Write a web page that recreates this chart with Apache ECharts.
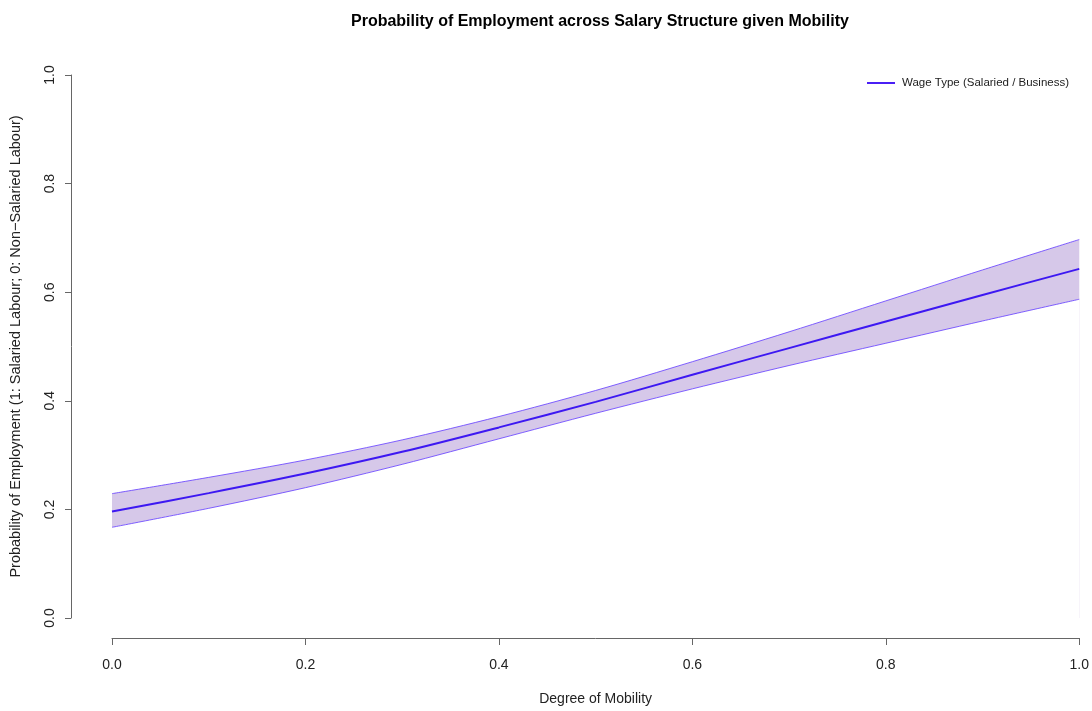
<!DOCTYPE html>
<html>
<head>
<meta charset="utf-8">
<script src="https://cdn.jsdelivr.net/npm/echarts@6/dist/echarts.min.js"></script>
<style>html,body{margin:0;padding:0;background:#fff}#c{width:1092px;height:711px}</style>
</head>
<body>
<div id="c"></div>
<script>
const mobility = [0.0, 0.1, 0.2, 0.3, 0.4, 0.5, 0.6, 0.7, 0.8, 0.9, 1.0];
const probMean = [0.196, 0.230, 0.266, 0.306, 0.351, 0.398, 0.448, 0.497, 0.546, 0.595, 0.643];
const probUpper = [0.229, 0.259, 0.291, 0.328, 0.371, 0.419, 0.472, 0.527, 0.584, 0.641, 0.697];
const probLower = [0.167, 0.202, 0.240, 0.283, 0.330, 0.377, 0.422, 0.465, 0.506, 0.547, 0.587];
const axisTicks = [0.0, 0.2, 0.4, 0.6, 0.8, 1.0];
const seriesName = 'Wage Type (Salaried / Business)';

const upperData = mobility.map((x, i) => [x, probUpper[i]]);
const lowerData = mobility.map((x, i) => [x, probLower[i]]);
const meanData = mobility.map((x, i) => [x, probMean[i]]);

const font = 'Liberation Sans, Arial, sans-serif';
const chart = echarts.init(document.getElementById('c'), null, {renderer: 'canvas'});
chart.setOption({
  backgroundColor: '#fff',
  animation: false,
  title: {
    text: 'Probability of Employment across Salary Structure given Mobility',
    left: 346, top: 9,
    textStyle: {fontFamily: font, fontSize: 16, fontWeight: 'bold', color: '#000'}
  },
  legend: {
    data: [seriesName], left: 862, top: 72,
    icon: 'rect', itemWidth: 28, itemHeight: 2,
    textStyle: {fontFamily: font, fontSize: 11.5, color: '#222', padding: [0, 0, 0, 2]}
  },
  grid: {left: 111, right: 12, top: 75, bottom: 91},
  xAxis: {
    type: 'value', min: 0, max: 1, interval: 0.2, offset: 20,
    name: 'Degree of Mobility', nameLocation: 'middle', nameGap: 54,
    nameTextStyle: {fontFamily: font, fontSize: 14, color: '#222'},
    axisLine: {show: true, onZero: false, lineStyle: {color: '#666', width: 1}},
    axisTick: {show: true, length: 7, lineStyle: {color: '#666'}},
    axisLabel: {fontFamily: font, fontSize: 14, color: '#222', margin: 20,
      formatter: v => axisTicks.includes(+v.toFixed(1)) ? v.toFixed(1) : ''},
    splitLine: {show: false}
  },
  yAxis: {
    type: 'value', min: 0, max: 1, interval: 0.2, offset: 41,
    name: 'Probability of Employment (1: Salaried Labour; 0: Non\u2212Salaried Labour)',
    nameLocation: 'middle', nameGap: 48, nameRotate: 90,
    nameTextStyle: {fontFamily: font, fontSize: 14.5, color: '#222'},
    axisLine: {show: true, onZero: false, lineStyle: {color: '#666', width: 1}},
    axisTick: {show: true, length: 6, lineStyle: {color: '#666'}},
    axisLabel: {fontFamily: font, fontSize: 14, color: '#222', margin: 14, rotate: 90,
      formatter: v => v.toFixed(1)},
    splitLine: {show: false}
  },
  series: [
    {
      name: 'upper', type: 'line', data: upperData, smooth: 0.3,
      symbol: 'none', z: 2, silent: true,
      lineStyle: {color: '#6a45ff', width: 1, opacity: 0.85},
      areaStyle: {color: '#d6c8e9', opacity: 1, origin: 'start'}
    },
    {
      name: 'lower', type: 'line', data: lowerData, smooth: 0.3,
      symbol: 'none', z: 3, silent: true,
      lineStyle: {color: '#6a45ff', width: 1, opacity: 0.85},
      areaStyle: {color: '#ffffff', opacity: 1, origin: 'start'}
    },
    {
      name: seriesName, type: 'line', data: meanData, smooth: 0.3,
      symbol: 'none', z: 5,
      itemStyle: {color: '#4a1ff5'},
      lineStyle: {color: '#3d18f2', width: 2}
    }
  ]
});
</script>
</body>
</html>
